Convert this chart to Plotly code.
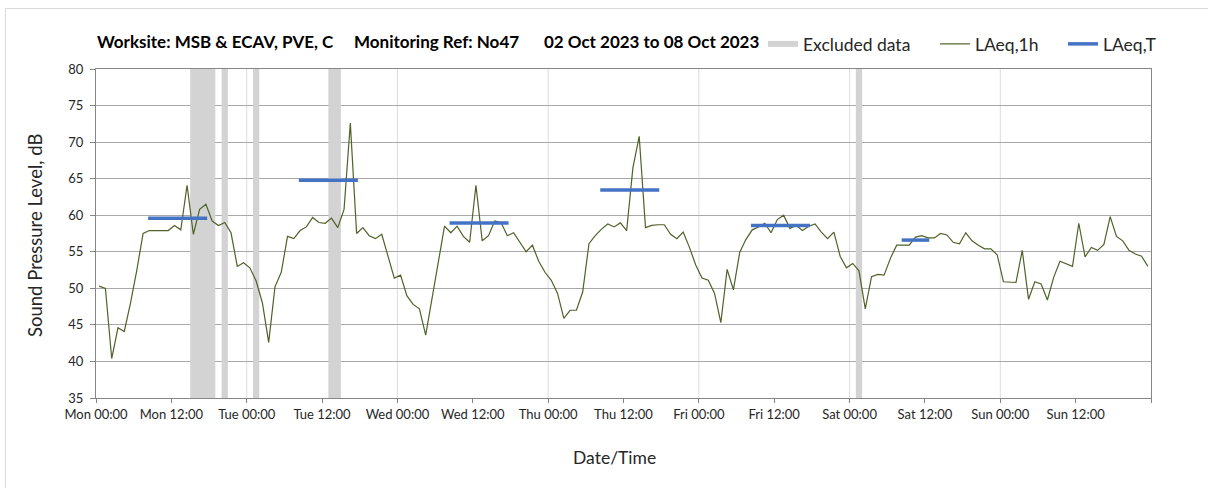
import plotly.graph_objects as go

# ---------------- data ----------------
# Hourly LAeq,1h values (dB), Mon 02 Oct 2023 00:00 .. Sun 08 Oct 2023 23:00
laeq_1h = [
    # Mon
    50.3, 50.0, 40.4, 44.6, 44.1, 48.0, 52.5, 57.5, 57.9, 57.9, 57.9, 57.9,
    58.6, 58.0, 64.1, 57.4, 60.8, 61.5, 59.2, 58.6, 59.0, 57.6, 53.0, 53.5,
    # Tue
    52.8, 51.0, 48.0, 42.6, 50.2, 52.2, 57.1, 56.8, 57.9, 58.4, 59.7, 59.0,
    58.9, 59.6, 58.3, 60.8, 72.6, 57.5, 58.3, 57.2, 56.8, 57.4, 54.4, 51.4,
    # Wed
    51.8, 49.0, 47.8, 47.2, 43.6, 48.7, 53.6, 58.5, 57.6, 58.5, 57.1, 56.3,
    64.1, 56.5, 57.2, 59.2, 59.0, 57.2, 57.6, 56.3, 55.0, 55.9, 53.7, 52.2,
    # Thu
    51.1, 49.3, 45.9, 47.0, 47.0, 49.5, 56.1, 57.2, 58.1, 58.8, 58.4, 58.95,
    57.9, 66.5, 70.8, 58.3, 58.6, 58.7, 58.7, 57.4, 56.8, 57.7, 55.6, 53.2,
    # Fri
    51.4, 51.1, 49.3, 45.3, 52.6, 49.8, 54.9, 56.7, 58.0, 58.4, 58.9, 57.6,
    59.4, 60.0, 58.2, 58.6, 57.9, 58.5, 58.8, 57.7, 56.8, 57.7, 54.4, 52.8,
    # Sat
    53.4, 52.4, 47.2, 51.6, 51.9, 51.8, 54.1, 55.9, 55.9, 55.9, 57.0, 57.2,
    56.9, 56.9, 57.5, 57.3, 56.3, 56.1, 57.6, 56.5, 55.9, 55.4, 55.4, 54.6,
    # Sun
    50.9, 50.9, 50.8, 55.2, 48.5, 50.9, 50.6, 48.4, 51.5, 53.7, 53.4, 53.0,
    58.9, 54.3, 55.6, 55.2, 56.0, 59.8, 57.1, 56.5, 55.2, 54.7, 54.4, 53.0,
]

# Excluded data periods (hours since Mon 00:00)
excluded_start_h = [15, 20, 25, 37, 121]
excluded_end_h = [19, 21, 26, 39, 122]

# LAeq,T assessment periods
period_day = [0, 1, 2, 3, 4, 5]            # Mon..Sat
period_start_h = [8, 8, 8, 8, 8, 8]
period_end_h = [18, 18, 18, 18, 18, 13]
period_laeq_t = [59.6, 64.8, 58.95, 63.45, 58.6, 56.6]

tick_labels = ["Mon 00:00", "Mon 12:00", "Tue 00:00", "Tue 12:00",
               "Wed 00:00", "Wed 12:00", "Thu 00:00", "Thu 12:00",
               "Fri 00:00", "Fri 12:00", "Sat 00:00", "Sat 12:00",
               "Sun 00:00", "Sun 12:00"]

NB = "\u00a0"
title_text = ("Worksite: MSB & ECAV, PVE, C" + NB * 5 + "Monitoring Ref: No47"
              + NB * 6 + "02 Oct 2023 to 08 Oct 2023")

Y_MIN, Y_MAX = 35, 80
N_HOURS = 168

# ---------------- layout geometry ----------------
W, H = 1208, 488
L, R, T, B = 96, 57, 69, 90
PW, PH = W - L - R, H - T - B


def px_x(p):
    return (p - L) / PW


def px_y(p):
    return (H - B - p) / PH


FONT = "Lato"
TXT = "#262626"

fig = go.Figure()

# Excluded data bands (closed polygons, separated by None)
ex_x, ex_y = [], []
for s, e in zip(excluded_start_h, excluded_end_h):
    ex_x += [s, e, e, s, s, None]
    ex_y += [Y_MIN, Y_MIN, Y_MAX, Y_MAX, Y_MIN, None]
fig.add_trace(go.Scatter(
    x=ex_x, y=ex_y, mode="none", fill="toself",
    fillcolor="#d3d3d3",
    name="Excluded data", legend="legend",
    hoverinfo="skip",
))

# LAeq,1h line (plotted at hour centres)
fig.add_trace(go.Scatter(
    x=[i + 0.5 for i in range(len(laeq_1h))],
    y=laeq_1h,
    mode="lines",
    line=dict(color="#4f6228", width=1.2),
    name="LAeq,1h", legend="legend2",
))

# LAeq,T segments
bx, by = [], []
for d, s, e, v in zip(period_day, period_start_h, period_end_h, period_laeq_t):
    bx += [d * 24 + s + 0.3, d * 24 + e - 0.3, None]
    by += [v, v, None]
fig.add_trace(go.Scatter(
    x=bx, y=by, mode="lines",
    line=dict(color="#4472c4", width=3.5),
    name="LAeq,T", legend="legend3",
))

# day-boundary vertical gridlines
shapes = []
for d in range(1, 7):
    shapes.append(dict(type="line", xref="x", yref="paper", x0=d * 24, x1=d * 24,
                       y0=0, y1=1, line=dict(color="#dcdcdc", width=1), layer="below"))
# outer chart border
shapes.append(dict(type="rect", xref="paper", yref="paper",
                   x0=px_x(5.5), x1=px_x(1215), y0=px_y(495), y1=px_y(8.5),
                   line=dict(color="#d9d9d9", width=1), fillcolor="rgba(0,0,0,0)"))

LEG_FONT = dict(family=FONT, size=17.5, color=TXT)


def leg(xpix):
    return dict(orientation="h", x=px_x(xpix), xanchor="left",
                y=px_y(44), yanchor="middle", font=LEG_FONT,
                bgcolor="rgba(0,0,0,0)")


fig.update_layout(
    width=W, height=H,
    margin=dict(l=L, r=R, t=T, b=B, autoexpand=False),
    paper_bgcolor="white", plot_bgcolor="white",
    font=dict(family=FONT, color=TXT, size=13),
    showlegend=True,
    legend=leg(763), legend2=leg(935), legend3=leg(1063),
    shapes=shapes,
    annotations=[
        dict(text="<b>" + title_text + "</b>", xref="paper", yref="paper",
             x=px_x(95), y=px_y(42), xanchor="left", yanchor="middle",
             showarrow=False, font=dict(family=FONT, size=17, color="black")),
        dict(text="Sound Pressure Level, dB", xref="paper", yref="paper",
             x=px_x(35), y=px_y(236), xanchor="center", yanchor="middle",
             textangle=-90, showarrow=False,
             font=dict(family=FONT, size=18.5, color=TXT)),
        dict(text="Date/Time", xref="paper", yref="paper",
             x=px_x(614), y=px_y(457), xanchor="center", yanchor="middle",
             showarrow=False, font=dict(family=FONT, size=17.5, color=TXT)),
    ],
)

fig.update_xaxes(
    range=[0, N_HOURS],
    tickmode="array",
    tickvals=list(range(0, N_HOURS + 1, 12)),
    ticktext=tick_labels + [""],
    ticks="outside", ticklen=4, tickcolor="#868686", tickwidth=1,
    showgrid=False, zeroline=False,
    showline=True, linecolor="#868686", linewidth=1, mirror=True,
    tickfont=dict(family=FONT, size=13, color=TXT),
    fixedrange=True,
)
fig.update_yaxes(
    range=[Y_MIN, Y_MAX],
    tickmode="linear", tick0=35, dtick=5,
    ticks="outside", ticklen=5, tickcolor="#868686", tickwidth=1,
    showgrid=True, gridcolor="#a8a8a8", gridwidth=1, zeroline=False,
    showline=True, linecolor="#868686", linewidth=1, mirror=True,
    tickfont=dict(family=FONT, size=13, color=TXT),
    ticklabelstandoff=4,
    fixedrange=True,
)

fig.write_html("out.html",
               config={"displayModeBar": False},
               post_script="document.body.style.margin='0';"
                           "document.body.style.overflow='hidden';")
